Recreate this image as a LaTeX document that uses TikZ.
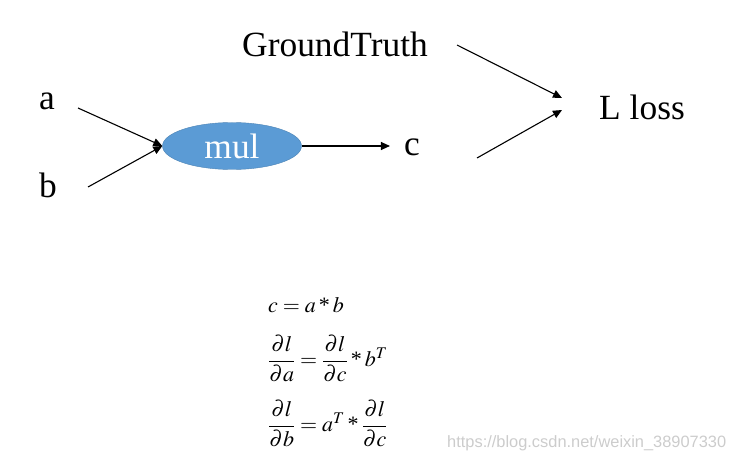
\documentclass[tikz,border=0pt]{standalone}
\usepackage{amsmath}
\usepackage{mathptmx}
\usepackage[no-math]{fontspec}
\setmainfont{Liberation Serif}
\newfontfamily\wmfont{Liberation Sans}
\usepackage{tikz}
\usetikzlibrary{arrows.meta,positioning,calc,shapes.geometric}
\definecolor{mulblue}{HTML}{5B9BD5}
\newcommand{\tm}{\mathbin{\text{*}}}

\begin{document}
\begin{tikzpicture}[x=1pt, y=-1pt, every node/.style={font=\fontsize{35.4}{42}\selectfont, inner sep=0pt}, op/.style={ellipse, fill=mulblue, draw=mulblue!85!black, minimum width=139pt, minimum height=47pt, text=white}, eqn/.style={anchor=west, font=\fontsize{22}{26}\selectfont}, arr/.style={-{Triangle[length=9pt,width=8pt]}, line width=1.1pt}]
\useasboundingbox (0,0) rectangle (735,462);
\node[anchor=base] (a) at (47,110) {a};
\node[anchor=base] (b) at (48,198) {b};
\node[op] (mul) at (232,146) {mul};
\node[anchor=base] (c) at (412,156) {c};
\node[anchor=base] (gt) at (335,57) {GroundTruth};
\node[anchor=base] (L) at (642,120) {L loss};
% free ends of the connectors
\coordinate (aout) at (78,108);
\coordinate (bout) at (88,187);
\coordinate (gtout) at (457,45);
\coordinate (cout) at (477,158);
\coordinate (Lin1) at (562,98);
\coordinate (Lin2) at (562,110);
\draw[arr] (aout) -- (mul.west);
\draw[arr] (bout) -- (mul.west);
\draw[arr, shorten >=14pt] (mul.east) -- (mul.east -| c.west);
\draw[arr] (gtout) -- (Lin1);
\draw[arr] (cout) -- (Lin2);
% formulas
\node[eqn] (eq1) at (268,305) {$c=a\tm b$};
\node[eqn] (eq2) at (268,359) {$\dfrac{\partial l}{\partial a}=\dfrac{\partial l}{\partial c}\tm b^T$};
\node[eqn] (eq3) at (268,424) {$\dfrac{\partial l}{\partial b}=a^T\tm\dfrac{\partial l}{\partial c}$};
\node[anchor=west, font=\wmfont\fontsize{16.4}{19}\selectfont, text=black!20] (wm) at (447,443) {https://blog.csdn.net/weixin\_38907330};
\end{tikzpicture}
\end{document}
